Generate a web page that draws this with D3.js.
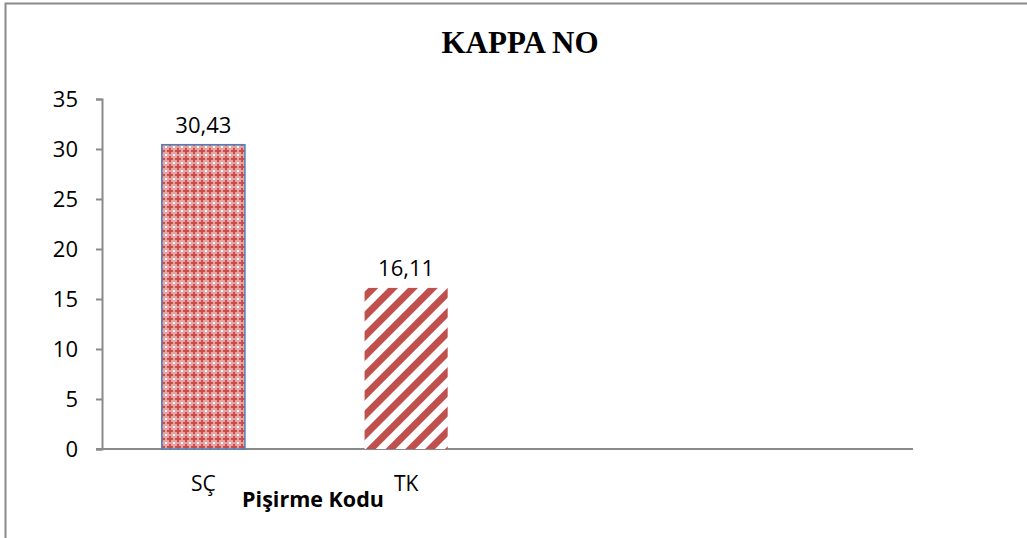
<!DOCTYPE html>
<html>
<head>
<meta charset="utf-8">
<script src="https://cdn.jsdelivr.net/npm/d3@7"></script>
<style>
  body { margin: 0; background: #fff; }
  svg { display: block; }
  .tick text { font-family: "Open Sans", sans-serif; }
</style>
</head>
<body>
<div id="chart"></div>
<script>
// Datos
const categories = ["SÇ", "TK", "", ""]
const values = [30.43, 16.11]
const valueLabels = ["30,43", "16,11"]
const yTicks = [0, 5, 10, 15, 20, 25, 30, 35]
const title = "KAPPA NO"
const xTitle = "Pişirme Kodu"

// Constantes
const width = 1027
const height = 538
const margins = { top: 99, bottom: 89, left: 102, right: 114 }
const innerW = width - margins.left - margins.right
const innerH = height - margins.top - margins.bottom

const svg = d3.select("#chart").append("svg").attr("width", width).attr("height", height)

// Patrones de relleno
const defs = svg.append("defs")
const dots = defs.append("pattern").attr("id", "dots")
    .attr("patternUnits", "userSpaceOnUse").attr("width", 8).attr("height", 8)
dots.append("rect").attr("width", 8).attr("height", 8).attr("fill", "#e6a3a1")
dots.append("path").attr("d", "M3,1h2v2h2v2h-2v2h-2v-2h-2v-2h2z").attr("fill", "#c94f4c")
dots.append("rect").attr("x", 0).attr("y", 0).attr("width", 1).attr("height", 1).attr("fill", "#fff")
dots.append("rect").attr("x", 7).attr("y", 7).attr("width", 1).attr("height", 1).attr("fill", "#fff")
dots.append("rect").attr("x", 7).attr("y", 0).attr("width", 1).attr("height", 1).attr("fill", "#fff")
dots.append("rect").attr("x", 0).attr("y", 7).attr("width", 1).attr("height", 1).attr("fill", "#fff")

const stripes = defs.append("pattern").attr("id", "stripes")
    .attr("patternUnits", "userSpaceOnUse").attr("width", 14).attr("height", 14)
    .attr("patternTransform", "rotate(45)")
stripes.append("rect").attr("width", 14).attr("height", 14).attr("fill", "#fff")
stripes.append("rect").attr("width", 7).attr("height", 14).attr("fill", "#c0504d")

// Marco
svg.append("path").attr("d", `M5.5,${height}V3.5H${width}`)
    .attr("fill", "none").attr("stroke", "#8a8a8a").attr("stroke-width", 2)

// Titulo
svg.append("text").attr("x", 520).attr("y", 53).attr("text-anchor", "middle")
    .attr("font-family", "Liberation Serif, Times New Roman, serif").attr("font-weight", "bold")
    .attr("font-size", 31).text(title)

const g = svg.append("g").attr("transform", `translate(${margins.left},${margins.top})`)

// Escalas
const x = d3.scaleBand().domain(d3.range(categories.length)).range([0, innerW])
const y = d3.scaleLinear().domain([0, 35]).range([innerH, 0])
const barW = x.bandwidth() * 0.41

// Eje Y
const yAxis = d3.axisLeft(y).tickValues(yTicks).tickSize(6).tickPadding(18)
const gy = g.append("g").call(yAxis)
gy.select(".domain").attr("stroke", "#8a8a8a").attr("stroke-width", 2)
gy.selectAll(".tick line").attr("stroke", "#8a8a8a").attr("stroke-width", 2)
gy.selectAll(".tick text").attr("font-size", 22).attr("fill", "#000")

// Eje X
g.append("line").attr("x1", -6).attr("x2", innerW).attr("y1", innerH).attr("y2", innerH)
    .attr("stroke", "#8a8a8a").attr("stroke-width", 2)

// Barras
const fills = ["url(#dots)", "url(#stripes)"]
const strokes = ["#4f81bd", "none"]
g.selectAll(".bar").data(values).enter().append("rect")
    .attr("class", "bar")
    .attr("x", (d, i) => x(i) + (x.bandwidth() - barW) / 2)
    .attr("width", barW)
    .attr("y", d => y(d))
    .attr("height", d => innerH - y(d))
    .attr("fill", (d, i) => fills[i])
    .attr("stroke", (d, i) => strokes[i])
    .attr("stroke-width", 1.5)

// Etiquetas de valor
g.selectAll(".label").data(values).enter().append("text")
    .attr("x", (d, i) => x(i) + x.bandwidth() / 2)
    .attr("y", d => y(d) - 12)
    .attr("text-anchor", "middle")
    .attr("font-family", "Open Sans, sans-serif").attr("font-size", 22)
    .text((d, i) => valueLabels[i])

// Etiquetas de categoria
g.selectAll(".cat").data(categories).enter().append("text")
    .attr("x", (d, i) => x(i) + x.bandwidth() / 2)
    .attr("y", innerH + 42)
    .attr("text-anchor", "middle")
    .attr("font-family", "Open Sans, sans-serif").attr("font-size", 21)
    .text(d => d)

// Titulo del eje X
svg.append("text").attr("x", 313).attr("y", 507).attr("text-anchor", "middle")
    .attr("font-family", "Open Sans, sans-serif").attr("font-weight", "bold")
    .attr("font-size", 21.5).text(xTitle)
</script>
</body>
</html>
